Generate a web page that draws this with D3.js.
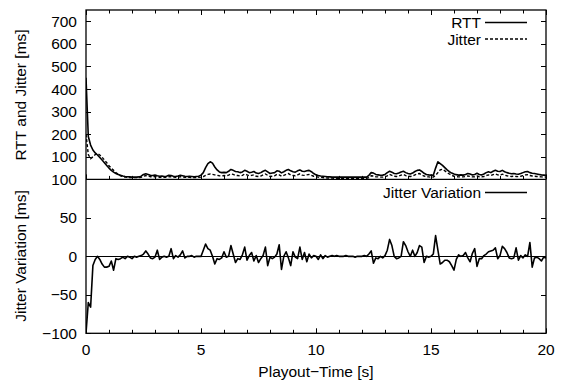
<!DOCTYPE html>
<html>
<head>
<meta charset="utf-8">
<script src="https://cdnjs.cloudflare.com/ajax/libs/d3/7.8.5/d3.min.js"></script>
<style>
  body { margin: 0; background: #fff; }
  text { font-family: "Liberation Sans", Arial, Helvetica, sans-serif; font-size: 15.5px; fill: #000; }
</style>
</head>
<body>
<svg id="plot" width="567" height="383"></svg>
<script>
// sample spacing of the trace [s], one row per second below
var step = 0.1;

// RTT [ms]
var rtt = [
  450,190,152,130,117,108,97,86,74,62,
  50,40,32,26,22,18,15,13,12,11,
  10,10,10,11,14,22,25,22,18,17,
  19,16,14,15,13,14,18,17,14,13,
  15,18,16,14,13,14,13,12,13,14,
  19,30,52,70,78,72,55,42,33,30,
  31,30,36,44,40,35,34,30,33,40,
  36,30,32,35,28,26,30,36,40,33,
  26,28,30,38,36,29,34,40,44,38,
  34,32,38,42,36,35,38,40,34,26,
  20,17,15,14,13,12,11,10,10,10,
  10,10,10,10,10,10,10,10,10,10,
  10,10,10,18,30,28,22,20,18,19,
  22,30,36,32,26,25,28,33,36,30,
  26,24,28,35,40,42,35,27,22,20,
  19,18,50,78,70,62,52,42,34,28,
  24,21,19,20,19,22,26,24,20,22,
  27,22,20,24,30,34,30,36,40,36,
  35,40,34,30,27,25,26,24,23,26,
  30,34,35,30,27,26,24,22,20,19,
  18
];

// jitter [ms]
var jitter = [
  200,110,92,100,110,115,108,98,86,74,
  60,50,40,30,22,16,12,10,9,8,
  8,8,8,8,9,14,17,15,12,11,
  13,11,9,10,9,9,12,12,10,9,
  10,12,11,9,9,9,8,8,8,9,
  10,12,18,22,24,22,20,18,16,15,
  17,16,19,24,22,18,17,15,18,24,
  20,16,18,20,14,13,15,20,24,18,
  13,14,16,22,20,14,18,22,26,20,
  17,16,20,25,19,18,20,22,18,14,
  12,10,9,8,7,6,6,6,5,5,
  5,5,5,5,5,5,5,5,5,5,
  5,5,5,8,16,15,12,11,10,10,
  12,16,22,18,14,13,15,19,22,17,
  14,13,15,20,24,26,20,15,12,11,
  10,10,18,30,42,45,38,30,24,18,
  14,12,11,11,11,13,15,13,11,12,
  15,12,11,13,17,20,17,21,24,20,
  19,23,19,16,14,13,14,13,12,14,
  17,20,21,17,15,14,13,12,11,10,
  10
];

// jitter variation [ms]
var jitterVar = [
  -100,-60,-66,-12,-4,0,-4,-10,-14,-14,
  -13,-6,-18,-3,-4,-3,-1,-3,0,-1,
  -3,0,-1,0,1,3,7,3,-2,-3,
  -1,8,-4,-1,0,-1,0,10,-3,1,
  -1,2,7,-2,0,0,1,-1,0,0,
  0,8,16,10,8,0,-10,-3,-4,-2,
  6,-1,0,14,3,-8,-3,-4,2,12,
  -5,1,5,-6,1,-8,-3,1,12,-12,
  -1,-3,-1,3,15,-17,0,6,-2,-12,
  6,-1,-3,12,-4,5,-7,3,-2,1,
  0,-4,2,-3,1,-1,0,1,0,1,
  0,0,0,1,0,0,0,-1,0,0,
  0,1,0,3,7,-9,-2,-3,0,-2,
  1,8,22,14,0,-3,-2,0,19,14,
  6,0,8,0,5,14,12,-8,0,-1,
  0,3,27,8,-10,-8,-5,-5,-7,-12,
  -18,-4,2,0,1,5,-2,-7,4,10,
  -13,-3,-3,1,3,6,7,8,11,-3,
  1,13,10,5,-2,-3,-2,11,-5,1,
  -2,2,0,18,-14,-2,-1,-3,-6,-1,
  -2
];

var xTicks = [0, 5, 10, 15, 20];
var upperTicks = [100, 200, 300, 400, 500, 600, 700];
var lowerTicks = [-100, -50, 0, 50, 100];

var svg = d3.select("#plot");
// frame edges (window.top is reserved, so use other names)
var pLeft = 86, pRight = 546, pTop = 10, pMid = 179.4, pBottom = 333.3;

var x = d3.scaleLinear().domain([0, 20]).range([pLeft, pRight]);
var yTop = d3.scaleLinear().domain([0, 750]).range([pMid, pTop]);
var yBot = d3.scaleLinear().domain([-100, 100]).range([pBottom, pMid]);

function series(vals) {
    return vals.map(function(v, i) { return {t: i * step, v: v}; });
}

// clip each panel to its frame
var defs = svg.append("defs");
defs.append("clipPath").attr("id", "clipTop").append("rect")
    .attr("x", pLeft).attr("y", pTop).attr("width", pRight - pLeft).attr("height", pMid - pTop);
defs.append("clipPath").attr("id", "clipBot").append("rect")
    .attr("x", pLeft).attr("y", pMid).attr("width", pRight - pLeft).attr("height", pBottom - pMid);

// ticks drawn inward, gnuplot style
var tickG = svg.append("g").attr("stroke", "#000").attr("stroke-width", 1);
d3.range(0, 21, 1).forEach(function(t) {
    var len = (t % 5 == 0) ? 5 : 3.5;
    var px = Math.round(x(t)) + 0.5;
    tickG.append("line").attr("x1", px).attr("x2", px).attr("y1", pTop).attr("y2", pTop + len);
    tickG.append("line").attr("x1", px).attr("x2", px).attr("y1", pMid).attr("y2", pMid - len);
    tickG.append("line").attr("x1", px).attr("x2", px).attr("y1", pBottom).attr("y2", pBottom - len);
});
upperTicks.forEach(function(v) {
    var py = Math.round(yTop(v)) + 0.5;
    tickG.append("line").attr("x1", pLeft).attr("x2", pLeft + 5).attr("y1", py).attr("y2", py);
    tickG.append("line").attr("x1", pRight).attr("x2", pRight - 5).attr("y1", py).attr("y2", py);
});
lowerTicks.forEach(function(v) {
    var py = Math.round(yBot(v)) + 0.5;
    tickG.append("line").attr("x1", pLeft).attr("x2", pLeft + 5).attr("y1", py).attr("y2", py);
    tickG.append("line").attr("x1", pRight).attr("x2", pRight - 5).attr("y1", py).attr("y2", py);
});

// zero line in the lower panel
svg.append("line")
    .attr("x1", pLeft).attr("x2", pRight)
    .attr("y1", Math.round(yBot(0)) + 0.5).attr("y2", Math.round(yBot(0)) + 0.5)
    .attr("stroke", "#000").attr("stroke-width", 1);

// tick labels
var fmt = function(v) { return v < 0 ? "\u2212" + Math.abs(v) : String(v); };
svg.append("g").selectAll("text").data(upperTicks).enter().append("text")
    .attr("x", 77).attr("y", function(d) { return yTop(d) + 5.5; })
    .attr("text-anchor", "end").text(fmt);
svg.append("g").selectAll("text").data(lowerTicks).enter().append("text")
    .attr("x", 77).attr("y", function(d) { return yBot(d) + 5.5; })
    .attr("text-anchor", "end").text(fmt);
svg.append("g").selectAll("text").data(xTicks).enter().append("text")
    .attr("x", function(d) { return x(d); }).attr("y", 355)
    .attr("text-anchor", "middle").text(fmt);

// axis titles
svg.append("text").attr("transform", "translate(26,95) rotate(-90)")
    .attr("text-anchor", "middle").text("RTT and Jitter [ms]");
svg.append("text").attr("transform", "translate(26,256) rotate(-90)")
    .attr("text-anchor", "middle").text("Jitter Variation [ms]");
svg.append("text").attr("x", 316).attr("y", 377)
    .attr("text-anchor", "middle").text("Playout\u2212Time [s]");

// data lines
var lineTop = d3.line().x(function(d) { return x(d.t); }).y(function(d) { return yTop(d.v); });
var lineBot = d3.line().x(function(d) { return x(d.t); }).y(function(d) { return yBot(d.v); });

svg.append("path").datum(series(jitter))
    .attr("clip-path", "url(#clipTop)")
    .attr("d", lineTop).attr("fill", "none")
    .attr("stroke", "#000").attr("stroke-width", 1.4)
    .attr("stroke-dasharray", "3,2");
svg.append("path").datum(series(rtt))
    .attr("clip-path", "url(#clipTop)")
    .attr("d", lineTop).attr("fill", "none")
    .attr("stroke", "#000").attr("stroke-width", 1.6)
    .attr("stroke-linejoin", "round");
svg.append("path").datum(series(jitterVar))
    .attr("clip-path", "url(#clipBot)")
    .attr("d", lineBot).attr("fill", "none")
    .attr("stroke", "#000").attr("stroke-width", 1.6)
    .attr("stroke-linejoin", "round");

// legends
var legend = [
    {label: "RTT", y: 22.5, ty: 28, dash: null},
    {label: "Jitter", y: 39, ty: 44.5, dash: "3,2"},
    {label: "Jitter Variation", y: 192.5, ty: 198, dash: null}
];
legend.forEach(function(d) {
    svg.append("text").attr("x", 481).attr("y", d.ty)
        .attr("text-anchor", "end").text(d.label);
    svg.append("line").attr("x1", 485).attr("x2", 527)
        .attr("y1", d.y).attr("y2", d.y)
        .attr("stroke", "#000").attr("stroke-width", 1.6)
        .attr("stroke-dasharray", d.dash);
});

// frames
svg.append("rect").attr("x", pLeft).attr("y", pTop)
    .attr("width", pRight - pLeft).attr("height", pBottom - pTop)
    .attr("fill", "none").attr("stroke", "#000").attr("stroke-width", 1.3);
svg.append("line").attr("x1", pLeft).attr("x2", pRight)
    .attr("y1", pMid).attr("y2", pMid)
    .attr("stroke", "#000").attr("stroke-width", 1.3);
</script>
</body>
</html>
